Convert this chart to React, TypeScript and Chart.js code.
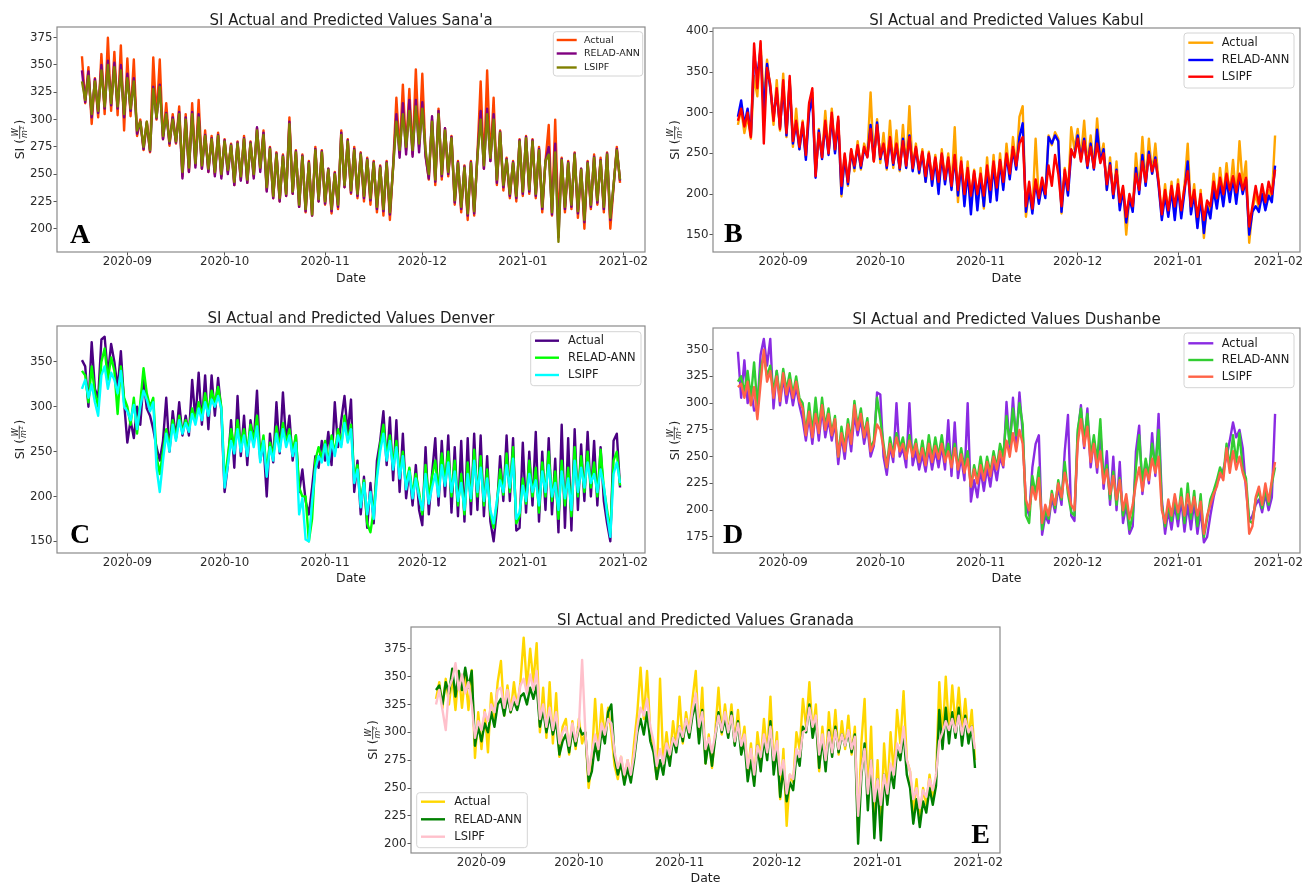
import React, { useEffect, useRef } from 'react';
import { Chart, registerables } from 'chart.js';

Chart.register(...registerables);
Chart.defaults.font.family = '"DejaVu Sans", sans-serif';

// Daily samples starting 2020-08-18; x = days counted from 2020-09-01
const START_DAY = -14;
const MONTH_TICKS = [0, 30, 61, 91, 122, 153];
const MONTH_LABELS = ['2020-09', '2020-10', '2020-11', '2020-12', '2021-01', '2021-02'];
const SERIES_NAMES = ['Actual', 'RELAD-ANN', 'LSIPF'];

// ---------- A: Sana'a ----------
const A_ACTUAL = [
  358, 315, 348, 296, 338, 302, 360, 305, 375, 308,
  362, 304, 368, 290, 356, 303, 355, 285, 300, 272,
  298, 270, 357, 300, 355, 282, 315, 276, 305, 278,
  312, 248, 305, 252, 315, 258, 318, 255, 290, 252,
  285, 250, 288, 248, 282, 252, 278, 240, 280, 245,
  285, 242, 280, 248, 292, 255, 290, 235, 275, 228,
  270, 225, 268, 230, 302, 232, 272, 220, 268, 215,
  262, 212, 275, 225, 272, 222, 255, 214, 252, 218,
  290, 238, 282, 232, 275, 228, 270, 225, 265, 222,
  262, 215, 258, 212, 262, 208, 258, 320, 270, 332,
  272, 328, 268, 346, 275, 342, 268, 245, 300, 240,
  310, 245, 292, 248, 285, 222, 262, 215, 258, 208,
  262, 212, 268, 335, 255, 345, 262, 320, 240, 290,
  235, 265, 228, 262, 225, 282, 230, 285, 232, 282,
  228, 275, 215, 262, 295, 212, 300, 205, 265, 215,
  262, 218, 270, 210, 255, 200, 262, 218, 268, 222,
  265, 215, 270, 200, 238, 275, 242,
];
const A_RELAD = [
  345, 316, 344, 302, 337, 306, 350, 310, 354, 313,
  352, 310, 350, 302, 342, 308, 338, 287, 298, 273,
  297, 271, 330, 301, 332, 282, 306, 278, 302, 279,
  307, 246, 302, 252, 307, 256, 305, 255, 286, 252,
  283, 248, 286, 246, 281, 250, 277, 240, 279, 244,
  283, 242, 279, 246, 293, 252, 288, 234, 274, 228,
  269, 225, 267, 230, 298, 232, 271, 220, 267, 216,
  261, 212, 273, 225, 271, 223, 255, 216, 251, 220,
  288, 238, 281, 233, 273, 230, 269, 228, 264, 226,
  261, 218, 257, 216, 261, 213, 257, 305, 265, 315,
  268, 318, 266, 318, 270, 316, 266, 246, 303, 243,
  308, 248, 292, 250, 284, 224, 261, 218, 257, 212,
  261, 214, 267, 308, 255, 310, 262, 305, 242, 289,
  238, 264, 230, 261, 228, 281, 232, 284, 234, 281,
  230, 273, 218, 262, 275, 213, 278, 192, 264, 218,
  261, 220, 269, 214, 255, 206, 261, 220, 266, 224,
  263, 218, 269, 208, 239, 273, 244,
];
const A_LSIPF = [
  335, 318, 340, 305, 335, 308, 345, 312, 350, 315,
  348, 312, 345, 305, 338, 310, 335, 290, 298, 275,
  298, 272, 328, 302, 330, 285, 305, 280, 300, 280,
  305, 252, 300, 256, 305, 260, 302, 258, 285, 255,
  282, 252, 285, 250, 280, 254, 276, 243, 278, 248,
  282, 245, 278, 250, 290, 256, 286, 238, 273, 230,
  268, 228, 266, 232, 296, 234, 270, 222, 266, 218,
  260, 213, 272, 227, 270, 225, 254, 218, 250, 222,
  286, 240, 280, 235, 272, 232, 268, 230, 263, 228,
  260, 220, 256, 218, 260, 215, 256, 298, 272, 305,
  275, 308, 272, 312, 278, 310, 272, 250, 298, 245,
  305, 250, 290, 252, 283, 226, 260, 220, 256, 214,
  260, 216, 266, 300, 258, 305, 265, 300, 245, 288,
  240, 263, 232, 260, 230, 280, 234, 283, 236, 280,
  232, 272, 220, 262, 268, 215, 270, 188, 263, 220,
  260, 222, 268, 216, 254, 208, 260, 222, 265, 226,
  262, 220, 268, 210, 240, 272, 245,
];
const A_Y_TICKS = [200, 225, 250, 275, 300, 325, 350, 375];

// ---------- B: Kabul ----------
const B_ACTUAL = [
  285, 305, 275, 295, 268, 345, 320, 385, 315, 365,
  330, 285, 340, 278, 348, 270, 340, 258, 305, 255,
  290, 245, 310, 325, 225, 280, 245, 302, 250, 305,
  252, 292, 197, 248, 210, 255, 228, 265, 230, 262,
  248, 325, 240, 292, 238, 275, 230, 290, 232, 278,
  228, 285, 232, 308, 230, 262, 225, 255, 215, 252,
  212, 248, 210, 255, 215, 250, 208, 282, 190, 245,
  195, 240, 190, 230, 185, 232, 182, 245, 195, 248,
  198, 250, 208, 262, 222, 270, 232, 295, 308, 172,
  205, 180, 268, 190, 218, 198, 272, 260, 276, 268,
  176, 232, 200, 282, 255, 280, 245, 290, 235, 272,
  232, 293, 242, 262, 205, 245, 195, 240, 185, 208,
  150, 198, 180, 250, 205, 270, 212, 268, 225, 262,
  215, 172, 212, 175, 215, 172, 218, 175, 210, 262,
  178, 212, 160, 205, 146, 190, 178, 225, 190, 232,
  195, 238, 198, 242, 195, 265, 210, 240, 140, 180,
  200, 182, 208, 185, 205, 195, 272,
];
const B_RELAD = [
  295, 315, 285, 305, 272, 370, 345, 378, 300, 360,
  330, 295, 325, 282, 332, 272, 338, 262, 287, 255,
  285, 242, 300, 318, 220, 278, 243, 285, 248, 295,
  250, 290, 200, 245, 212, 252, 232, 258, 232, 255,
  246, 285, 242, 288, 243, 260, 232, 266, 236, 260,
  230, 268, 232, 272, 228, 256, 226, 250, 215, 248,
  210, 243, 200, 248, 212, 242, 205, 245, 198, 236,
  185, 228, 175, 225, 180, 222, 185, 230, 190, 236,
  192, 240, 205, 248, 218, 255, 230, 270, 287, 178,
  205, 176, 215, 188, 212, 195, 270, 262, 272, 265,
  178, 225, 198, 250, 248, 272, 242, 268, 232, 262,
  230, 279, 240, 255, 205, 238, 195, 230, 180, 205,
  165, 195, 178, 232, 200, 248, 210, 252, 225, 245,
  210, 168, 198, 172, 205, 168, 208, 170, 202, 240,
  175, 200, 158, 195, 152, 185, 170, 205, 182, 212,
  185, 218, 190, 220, 188, 222, 200, 218, 150, 178,
  185, 178, 200, 180, 198, 190, 235,
];
const B_LSIPF = [
  290, 305, 283, 300, 270, 385, 330, 388, 262, 355,
  335, 290, 330, 280, 340, 275, 345, 265, 290, 258,
  288, 248, 312, 330, 222, 275, 245, 290, 250, 300,
  255, 295, 210, 250, 215, 255, 235, 260, 235, 258,
  245, 280, 240, 285, 245, 262, 235, 270, 238, 262,
  232, 265, 235, 270, 232, 258, 230, 252, 222, 250,
  218, 245, 215, 250, 218, 245, 210, 248, 205, 240,
  200, 232, 198, 228, 200, 225, 198, 235, 205, 240,
  208, 242, 215, 250, 225, 258, 235, 262, 270, 185,
  215, 182, 218, 195, 220, 200, 235, 210, 248, 225,
  185, 230, 205, 255, 245, 268, 240, 265, 235, 258,
  232, 262, 238, 250, 212, 235, 200, 228, 190, 210,
  172, 200, 185, 225, 205, 240, 215, 248, 228, 242,
  215, 175, 205, 180, 210, 185, 212, 180, 208, 228,
  185, 205, 172, 200, 168, 192, 185, 215, 195, 220,
  200, 225, 205, 222, 202, 225, 205, 220, 160, 185,
  210, 188, 212, 190, 215, 200, 230,
];
const B_Y_TICKS = [150, 200, 250, 300, 350, 400];

// ---------- C: Denver ----------
const C_ACTUAL = [
  352, 345, 300, 372, 320, 310, 375, 378, 335, 370,
  350, 320, 362, 305, 260, 285, 265, 300, 280, 330,
  298, 290, 275, 255, 240, 262, 310, 250, 295, 265,
  305, 268, 290, 268, 330, 285, 338, 280, 335, 275,
  335, 290, 332, 295, 205, 235, 285, 232, 312, 245,
  290, 235, 285, 260, 318, 240, 260, 200, 270, 238,
  305, 248, 316, 260, 290, 240, 268, 205, 230, 195,
  180, 210, 245, 232, 262, 240, 272, 235, 305, 255,
  285, 312, 270, 308, 205, 240, 180, 222, 165, 215,
  170, 240, 262, 295, 235, 288, 218, 285, 205, 270,
  198, 230, 190, 235, 185, 168, 255, 180, 225, 265,
  190, 262, 200, 268, 182, 255, 178, 262, 172, 265,
  180, 270, 185, 268, 178, 245, 172, 150, 185, 245,
  195, 268, 195, 265, 162, 165, 260, 182, 250, 190,
  272, 172, 250, 185, 265, 180, 242, 160, 280, 165,
  265, 162, 275, 185, 258, 195, 272, 200, 262, 190,
  255, 195, 170, 150, 262, 270, 210,
];
const C_RELAD = [
  340, 335, 305, 345, 315, 300, 350, 365, 330, 355,
  340, 292, 345, 310, 300, 280, 310, 270, 305, 343,
  315, 300, 310, 245, 225, 250, 275, 255, 285, 265,
  290, 272, 285, 275, 298, 285, 305, 290, 315, 295,
  318, 305, 322, 300, 218, 245, 275, 255, 285, 258,
  275, 250, 280, 262, 290, 245, 268, 228, 260, 245,
  278, 255, 282, 260, 275, 250, 268, 210, 200, 200,
  150, 175, 240, 255, 242, 262, 238, 268, 248, 275,
  258, 290, 262, 280, 220, 235, 192, 218, 170, 160,
  185, 225, 258, 280, 245, 268, 235, 262, 225, 250,
  212, 232, 202, 225, 205, 180, 235, 198, 222, 240,
  205, 248, 215, 250, 200, 240, 190, 225, 180, 238,
  195, 252, 200, 245, 190, 230, 180, 165, 192, 230,
  202, 248, 205, 255, 170, 178, 220, 192, 240, 200,
  232, 182, 238, 200, 250, 195, 228, 175, 240, 190,
  232, 178, 255, 200, 245, 205, 250, 210, 238, 200,
  252, 210, 185, 160, 240, 250, 212,
];
const C_LSIPF = [
  320, 330, 310, 325, 305, 290, 335, 345, 320, 338,
  330, 315, 340, 300, 295, 285, 302, 275, 300, 318,
  308, 295, 305, 232, 205, 240, 270, 250, 280, 262,
  285, 270, 282, 272, 292, 280, 298, 285, 305, 290,
  308, 300, 312, 298, 210, 235, 262, 248, 275, 250,
  268, 245, 272, 255, 278, 238, 262, 222, 255, 240,
  270, 250, 275, 255, 268, 245, 260, 180, 198, 152,
  150, 195, 230, 245, 238, 258, 235, 262, 245, 268,
  255, 282, 260, 275, 215, 230, 188, 215, 180, 205,
  175, 220, 250, 270, 240, 262, 230, 255, 220, 245,
  208, 228, 198, 220, 200, 185, 225, 192, 210, 225,
  200, 235, 212, 238, 205, 228, 195, 215, 185, 225,
  198, 240, 205, 232, 195, 220, 185, 170, 195, 218,
  205, 235, 210, 242, 175, 182, 212, 195, 225, 205,
  218, 190, 228, 205, 235, 200, 215, 185, 228, 198,
  220, 185, 240, 205, 232, 210, 238, 215, 225, 205,
  230, 212, 180, 155, 225, 238, 215,
];
const C_Y_TICKS = [150, 200, 250, 300, 350];

// ---------- D: Dushanbe ----------
const D_ACTUAL = [
  348, 305, 340, 300, 315, 293, 295, 345, 360, 335,
  360, 295, 330, 298, 325, 300, 318, 298, 315, 298,
  285, 265, 288, 262, 292, 265, 295, 268, 285, 265,
  282, 243, 270, 248, 278, 255, 290, 270, 285, 262,
  278, 250, 260, 310, 308, 250, 233, 260, 245, 300,
  250, 258, 240, 300, 242, 255, 238, 252, 236, 258,
  238, 256, 240, 260, 238, 284, 232, 282, 230, 250,
  228, 300, 208, 228, 212, 238, 218, 240, 222, 245,
  228, 250, 240, 301, 258, 305, 262, 310, 272, 205,
  195, 240, 262, 270, 177, 195, 188, 212, 198, 222,
  205, 255, 289, 195, 190, 270, 298, 258, 295, 240,
  265, 235, 275, 220, 255, 205, 250, 200, 245, 188,
  205, 178, 185, 255, 279, 215, 245, 225, 272, 232,
  290, 210, 178, 200, 182, 205, 185, 210, 180, 205,
  182, 208, 178, 200, 170, 175, 195, 212, 225, 232,
  238, 250, 265, 282, 268, 275, 258, 220, 190, 195,
  205, 210, 198, 215, 200, 212, 290,
];
const D_RELAD = [
  320, 325, 310, 330, 305, 338, 298, 332, 345, 325,
  335, 310, 330, 305, 332, 312, 328, 308, 325, 305,
  300, 272, 300, 272, 305, 275, 305, 278, 295, 272,
  288, 250, 278, 258, 285, 265, 302, 278, 295, 270,
  286, 258, 265, 305, 285, 262, 240, 268, 252, 272,
  258, 268, 250, 270, 252, 266, 245, 265, 245, 270,
  248, 268, 250, 270, 248, 262, 242, 262, 240, 258,
  238, 255, 222, 242, 228, 250, 230, 250, 235, 255,
  240, 262, 250, 288, 262, 295, 270, 300, 280, 195,
  188, 232, 215, 240, 182, 200, 192, 218, 202, 228,
  210, 245, 215, 198, 195, 275, 295, 265, 290, 250,
  270, 245, 285, 228, 242, 210, 236, 205, 230, 195,
  210, 182, 195, 240, 270, 225, 248, 232, 262, 240,
  275, 205, 185, 205, 190, 212, 192, 220, 188, 225,
  192, 218, 185, 215, 175, 192, 210, 218, 228, 240,
  232, 262, 240, 270, 245, 272, 238, 230, 190, 188,
  210, 218, 202, 220, 205, 225, 240,
];
const D_LSIPF = [
  315, 318, 305, 320, 298, 315, 285, 318, 350, 320,
  330, 305, 325, 302, 328, 308, 322, 305, 320, 302,
  295, 270, 292, 268, 290, 272, 298, 275, 290, 270,
  285, 250, 272, 255, 280, 262, 298, 275, 290, 268,
  282, 255, 262, 280, 275, 258, 240, 262, 250, 268,
  255, 262, 248, 265, 250, 262, 245, 258, 242, 262,
  245, 260, 248, 262, 245, 255, 240, 258, 238, 252,
  235, 248, 222, 238, 225, 242, 228, 245, 232, 250,
  238, 255, 242, 265, 250, 272, 255, 275, 262, 210,
  200, 222, 210, 230, 188, 205, 195, 215, 205, 225,
  212, 235, 220, 205, 200, 262, 285, 260, 278, 245,
  262, 240, 255, 225, 238, 215, 232, 210, 228, 200,
  215, 192, 205, 225, 240, 218, 238, 228, 248, 235,
  250, 200, 188, 210, 195, 215, 198, 212, 195, 215,
  198, 212, 195, 208, 178, 195, 205, 215, 222, 235,
  228, 258, 235, 255, 238, 250, 235, 225, 178, 185,
  212, 222, 205, 225, 208, 228, 245,
];
const D_Y_TICKS = [175, 200, 225, 250, 275, 300, 325, 350];

// ---------- E: Granada ----------
const E_ACTUAL = [
  330, 345, 322, 348, 325, 350, 320, 355, 322, 352,
  320, 356, 277, 318, 285, 320, 282, 335, 312, 345,
  364, 315, 342, 318, 345, 322, 345, 385, 340, 375,
  345, 380, 300, 340, 295, 345, 290, 335, 278, 305,
  312, 280, 310, 285, 312, 290, 300, 250, 275, 330,
  282, 325, 295, 322, 300, 270, 258, 278, 255, 275,
  258, 290, 318, 358, 312, 355, 300, 285, 258, 348,
  272, 300, 275, 310, 288, 332, 290, 318, 300, 330,
  355, 295, 340, 272, 298, 268, 300, 340, 298, 325,
  298, 325, 290, 320, 285, 305, 262, 290, 255, 300,
  275, 312, 280, 332, 270, 300, 240, 285, 216, 262,
  255, 300, 285, 330, 305, 345, 300, 325, 265, 305,
  270, 318, 285, 320, 280, 310, 285, 315, 280, 305,
  210, 290, 330, 240, 305, 215, 275, 212, 290, 245,
  300, 262, 320, 290, 337, 275, 265, 228, 258, 220,
  250, 235, 262, 240, 260, 345, 295, 350, 300, 342,
  305, 340, 300, 330, 295, 320, 275,
];
const E_RELAD = [
  338, 342, 325, 345, 335, 357, 332, 355, 338, 358,
  340, 355, 288, 305, 292, 308, 300, 318, 305, 325,
  330, 315, 332, 318, 328, 320, 332, 335, 325, 340,
  330, 342, 305, 320, 300, 315, 298, 310, 280, 292,
  298, 282, 302, 288, 305, 298, 300, 256, 265, 290,
  275, 302, 290, 318, 325, 278, 262, 272, 253, 268,
  255, 275, 300, 312, 298, 318, 292, 282, 258, 275,
  262, 285, 270, 295, 282, 305, 292, 310, 295, 315,
  325, 290, 320, 272, 292, 270, 295, 318, 300, 312,
  295, 318, 288, 310, 280, 292, 256, 275, 252, 288,
  265, 295, 275, 310, 262, 285, 242, 268, 238, 255,
  248, 280, 270, 305, 300, 325, 295, 312, 268, 295,
  265, 302, 278, 305, 282, 298, 288, 300, 282, 298,
  200, 260, 290, 230, 275, 205, 258, 203, 262, 235,
  265, 250, 285, 275, 300, 262, 250, 218, 240, 215,
  238, 228, 250, 235, 252, 320, 285, 322, 290, 318,
  295, 322, 288, 315, 290, 305, 268,
];
const E_LSIPF = [
  325, 338, 320, 302, 340, 348, 362, 338, 352, 335,
  345, 325, 295, 310, 302, 318, 310, 325, 318, 338,
  340, 322, 338, 320, 332, 325, 342, 348, 335, 352,
  338, 355, 312, 325, 305, 322, 302, 318, 290, 300,
  305, 288, 308, 292, 305, 365, 300, 262, 282, 298,
  285, 308, 298, 312, 308, 282, 268, 278, 262, 275,
  262, 280, 305, 322, 315, 330, 305, 292, 270, 285,
  272, 290, 280, 295, 288, 305, 296, 312, 300, 320,
  335, 305, 318, 285, 295, 282, 298, 315, 302, 318,
  300, 315, 292, 308, 288, 298, 268, 285, 262, 288,
  278, 298, 282, 305, 275, 292, 262, 275, 245, 262,
  258, 285, 278, 300, 302, 322, 305, 315, 280, 298,
  275, 300, 282, 302, 285, 298, 288, 302, 285, 296,
  225, 265, 285, 245, 275, 238, 258, 235, 262, 245,
  272, 262, 290, 282, 305, 275, 265, 240, 250, 232,
  248, 242, 258, 248, 262, 292, 300, 310, 302, 312,
  300, 315, 298, 312, 300, 305, 285,
];
const E_Y_TICKS = [200, 225, 250, 275, 300, 325, 350, 375];

// ---------- layout / style ----------
const X_MIN = -21.7;
const X_MAX = 159.7;
const TEXT_COLOR = '#1e1e1e';
const TICK_LABEL_COLOR = '#2a2a2a';
const FRAME_COLOR = '#8a8a8a';
const TICK_COLOR = '#555555';
const LINE_WIDTH = 2.4;

type Rect = { l: number; t: number; r: number; b: number };
type PanelDef = {
  letter: string;
  title: string;
  series: number[][];
  colors: string[];
  yTicks: number[];
  yMin: number;
  yMax: number;
  plot: Rect;
  canvas: { x: number; y: number; w: number; h: number };
  legend: { box: number[]; rows: number[]; hx: number[]; tx: number; font: number };
  letterPos: { x: number; y: number; align: CanvasTextAlign };
  titleY: number;
  dateY: number;
  ylabX: number;
};

const PANELS: PanelDef[] = [
  {
    letter: 'A',
    title: "SI Actual and Predicted Values Sana'a",
    series: [A_ACTUAL, A_RELAD, A_LSIPF],
    colors: ['#ff4500', '#800080', '#808000'],
    yTicks: A_Y_TICKS, yMin: 178.7, yMax: 384.8,
    plot: { l: 57, t: 27, r: 645, b: 252 },
    canvas: { x: 0, y: 0, w: 656, h: 283 },
    legend: { box: [553.3, 31.7, 642.7, 76], rows: [40, 53.5, 67.5], hx: [556.7, 576.7], tx: 584, font: 9.5 },
    letterPos: { x: 70, y: 243, align: 'left' },
    titleY: 24.5, dateY: 281.5, ylabX: 24,
  },
  {
    letter: 'B',
    title: 'SI Actual and Predicted Values Kabul',
    series: [B_ACTUAL, B_RELAD, B_LSIPF],
    colors: ['#ffa500', '#0000ff', '#ff0000'],
    yTicks: B_Y_TICKS, yMin: 128.7, yMax: 404.1,
    plot: { l: 713, t: 28, r: 1300, b: 252 },
    canvas: { x: 656, y: 0, w: 655, h: 283 },
    legend: { box: [1184, 33, 1294, 88], rows: [42.7, 60, 76.7], hx: [1188.3, 1213.3], tx: 1221.7, font: 11.5 },
    letterPos: { x: 724, y: 242, align: 'left' },
    titleY: 25, dateY: 281.5, ylabX: 679,
  },
  {
    letter: 'C',
    title: 'SI Actual and Predicted Values Denver',
    series: [C_ACTUAL, C_RELAD, C_LSIPF],
    colors: ['#4b0082', '#00ff00', '#00ffff'],
    yTicks: C_Y_TICKS, yMin: 137, yMax: 390,
    plot: { l: 57, t: 326, r: 645, b: 553 },
    canvas: { x: 0, y: 297, w: 656, h: 287 },
    legend: { box: [530.7, 331.7, 641, 385.7], rows: [340.7, 357.7, 375], hx: [535, 559], tx: 568, font: 11.5 },
    letterPos: { x: 70, y: 543, align: 'left' },
    titleY: 322.5, dateY: 581.5, ylabX: 23.5,
  },
  {
    letter: 'D',
    title: 'SI Actual and Predicted Values Dushanbe',
    series: [D_ACTUAL, D_RELAD, D_LSIPF],
    colors: ['#8a2be2', '#32cd32', '#ff6347'],
    yTicks: D_Y_TICKS, yMin: 160, yMax: 370.2,
    plot: { l: 713, t: 328, r: 1300, b: 553 },
    canvas: { x: 656, y: 297, w: 655, h: 287 },
    legend: { box: [1184, 333, 1294, 387.7], rows: [343.3, 360, 376.7], hx: [1188.3, 1213.3], tx: 1221.7, font: 11.5 },
    letterPos: { x: 723, y: 543, align: 'left' },
    titleY: 324, dateY: 582, ylabX: 678.5,
  },
  {
    letter: 'E',
    title: 'SI Actual and Predicted Values Granada',
    series: [E_ACTUAL, E_RELAD, E_LSIPF],
    colors: ['#ffd700', '#008000', '#ffc0cb'],
    yTicks: E_Y_TICKS, yMin: 191.7, yMax: 394.5,
    plot: { l: 411, t: 627, r: 1000, b: 853 },
    canvas: { x: 354, y: 598, w: 668, h: 285 },
    legend: { box: [416.7, 792.7, 527.3, 847.7], rows: [801.7, 819.3, 836.7], hx: [421, 445], tx: 454.3, font: 11.5 },
    letterPos: { x: 990, y: 843, align: 'right' },
    titleY: 625, dateY: 881.5, ylabX: 377,
  },
];

function roundRectPath(ctx: CanvasRenderingContext2D, x: number, y: number, w: number, h: number, r: number) {
  ctx.beginPath();
  ctx.moveTo(x + r, y);
  ctx.lineTo(x + w - r, y);
  ctx.arcTo(x + w, y, x + w, y + r, r);
  ctx.lineTo(x + w, y + h - r);
  ctx.arcTo(x + w, y + h, x + w - r, y + h, r);
  ctx.lineTo(x + r, y + h);
  ctx.arcTo(x, y + h, x, y + h - r, r);
  ctx.lineTo(x, y + r);
  ctx.arcTo(x, y, x + r, y, r);
  ctx.closePath();
}

function makeDecor(p: PanelDef) {
  const ox = p.canvas.x;
  const oy = p.canvas.y;
  return {
    id: 'decor' + p.letter,
    afterDatasetsDraw(chart: any) {
      const ctx: CanvasRenderingContext2D = chart.ctx;
      const ca = chart.chartArea;
      ctx.save();
      // frame (spines)
      ctx.strokeStyle = FRAME_COLOR;
      ctx.lineWidth = 1.2;
      ctx.strokeRect(ca.left, ca.top, ca.right - ca.left, ca.bottom - ca.top);
      // panel letter
      ctx.fillStyle = '#000';
      ctx.font = 'bold 28px "Liberation Serif", "DejaVu Serif", serif';
      ctx.textBaseline = 'alphabetic';
      ctx.textAlign = p.letterPos.align;
      ctx.fillText(p.letter, p.letterPos.x - ox, p.letterPos.y - oy);
      // legend
      const lg = p.legend;
      const [bx0, by0, bx1, by1] = lg.box;
      roundRectPath(ctx, bx0 - ox, by0 - oy, bx1 - bx0, by1 - by0, 3);
      ctx.fillStyle = 'rgba(255,255,255,0.85)';
      ctx.fill();
      ctx.strokeStyle = '#d4d4d4';
      ctx.lineWidth = 1;
      ctx.stroke();
      ctx.font = `${lg.font}px "DejaVu Sans", sans-serif`;
      ctx.textAlign = 'left';
      ctx.textBaseline = 'middle';
      SERIES_NAMES.forEach((name, i) => {
        const y = lg.rows[i] - oy;
        ctx.strokeStyle = p.colors[i];
        ctx.lineWidth = 2.4;
        ctx.beginPath();
        ctx.moveTo(lg.hx[0] - ox, y);
        ctx.lineTo(lg.hx[1] - ox, y);
        ctx.stroke();
        ctx.fillStyle = TEXT_COLOR;
        ctx.fillText(name, lg.tx - ox, y + 0.5);
      });
      ctx.restore();
    },
    afterDraw(chart: any) {
      const ctx: CanvasRenderingContext2D = chart.ctx;
      const ca = chart.chartArea;
      const cx = (ca.left + ca.right) / 2;
      ctx.save();
      ctx.fillStyle = TEXT_COLOR;
      // title
      ctx.font = '15px "DejaVu Sans", sans-serif';
      ctx.textAlign = 'center';
      ctx.textBaseline = 'alphabetic';
      ctx.fillText(p.title, cx, p.titleY - oy);
      // x label
      ctx.font = '12.5px "DejaVu Sans", sans-serif';
      ctx.fillText('Date', cx, p.dateY - oy);
      // y label: SI (W / m^2)
      const cy = (ca.top + ca.bottom) / 2;
      ctx.translate(p.ylabX - ox, cy);
      ctx.rotate(-Math.PI / 2);
      ctx.textAlign = 'left';
      const mainFont = '12.5px "DejaVu Sans", sans-serif';
      const fracFont = 'italic 8px "DejaVu Sans", sans-serif';
      const supFont = '5.5px "DejaVu Sans", sans-serif';
      ctx.font = mainFont;
      const wLeft = ctx.measureText('SI (').width;
      const wRight = ctx.measureText(')').width;
      ctx.font = fracFont;
      const wW = ctx.measureText('W').width;
      const wm = ctx.measureText('m').width;
      ctx.font = supFont;
      const w2 = ctx.measureText('2').width;
      const wDen = wm + w2 + 0.5;
      const fw = Math.max(wW, wDen) + 1.5;
      const total = wLeft + fw + 1 + wRight;
      let x = -total / 2;
      ctx.font = mainFont;
      ctx.fillText('SI (', x, 0);
      x += wLeft;
      ctx.font = fracFont;
      ctx.fillText('W', x + (fw - wW) / 2, -5.6);
      ctx.fillRect(x, -4.7, fw, 0.8);
      const dx = x + (fw - wDen) / 2;
      ctx.fillText('m', dx, 2.6);
      ctx.font = supFont;
      ctx.fillText('2', dx + wm + 0.5, -0.4);
      x += fw + 1;
      ctx.font = mainFont;
      ctx.fillText(')', x, 0);
      ctx.restore();
    },
  };
}

function buildConfig(p: PanelDef): any {
  const datasets = p.series.map((vals, i) => ({
    label: SERIES_NAMES[i],
    data: vals.map((y, k) => ({ x: START_DAY + k, y })),
    borderColor: p.colors[i],
    backgroundColor: p.colors[i],
    borderWidth: LINE_WIDTH,
    pointRadius: 0,
    pointHoverRadius: 0,
    tension: 0,
    fill: false,
    borderJoinStyle: 'round',
    order: 3 - i,
  }));
  const xAxisH = p.canvas.y + p.canvas.h - p.plot.b;
  const yAxisW = p.plot.l - p.canvas.x;
  return {
    type: 'line',
    data: { datasets },
    options: {
      animation: false,
      responsive: false,
      maintainAspectRatio: false,
      events: [],
      layout: {
        padding: {
          left: 0,
          top: p.plot.t - p.canvas.y,
          right: p.canvas.x + p.canvas.w - p.plot.r,
          bottom: 0,
        },
      },
      plugins: {
        legend: { display: false },
        title: { display: false },
        tooltip: { enabled: false },
      },
      scales: {
        x: {
          type: 'linear',
          min: X_MIN,
          max: X_MAX,
          afterBuildTicks: (s: any) => {
            s.ticks = MONTH_TICKS.map((v) => ({ value: v }));
          },
          afterFit: (s: any) => {
            s.height = xAxisH;
          },
          ticks: {
            autoSkip: false,
            maxRotation: 0,
            minRotation: 0,
            padding: 0.5,
            color: TICK_LABEL_COLOR,
            font: { size: 11.8, lineHeight: 1 },
            callback: (_v: any, idx: number) => MONTH_LABELS[idx],
          },
          grid: {
            display: true,
            drawOnChartArea: false,
            drawTicks: true,
            tickLength: 3.5,
            color: TICK_COLOR,
            lineWidth: 1,
          },
          border: { display: false },
        },
        y: {
          type: 'linear',
          min: p.yMin,
          max: p.yMax,
          afterBuildTicks: (s: any) => {
            s.ticks = p.yTicks.map((v) => ({ value: v }));
          },
          afterFit: (s: any) => {
            s.width = yAxisW;
          },
          ticks: {
            autoSkip: false,
            padding: 1,
            color: TICK_LABEL_COLOR,
            font: { size: 11.8, lineHeight: 1 },
            callback: (v: any) => String(v),
          },
          grid: {
            display: true,
            drawOnChartArea: false,
            drawTicks: true,
            tickLength: 3.5,
            color: TICK_COLOR,
            lineWidth: 1,
          },
          border: { display: false },
        },
      },
    },
    plugins: [makeDecor(p)],
  };
}

function PanelChart({ panel }: { panel: PanelDef }) {
  const ref = useRef<HTMLCanvasElement | null>(null);
  useEffect(() => {
    const canvas = ref.current;
    if (!canvas) return;
    const chart = new Chart(canvas, buildConfig(panel));
    return () => chart.destroy();
  }, [panel]);
  const c = panel.canvas;
  return (
    <canvas
      ref={ref}
      width={c.w}
      height={c.h}
      style={{ position: 'absolute', left: c.x, top: c.y, width: c.w, height: c.h, display: 'block' }}
    />
  );
}

export default function App() {
  return (
    <div
      style={{
        position: 'absolute',
        left: 0,
        top: 0,
        width: 1311,
        height: 883,
        overflow: 'hidden',
        background: '#ffffff',
      }}
    >
      {PANELS.map((p) => (
        <PanelChart key={p.letter} panel={p} />
      ))}
    </div>
  );
}
